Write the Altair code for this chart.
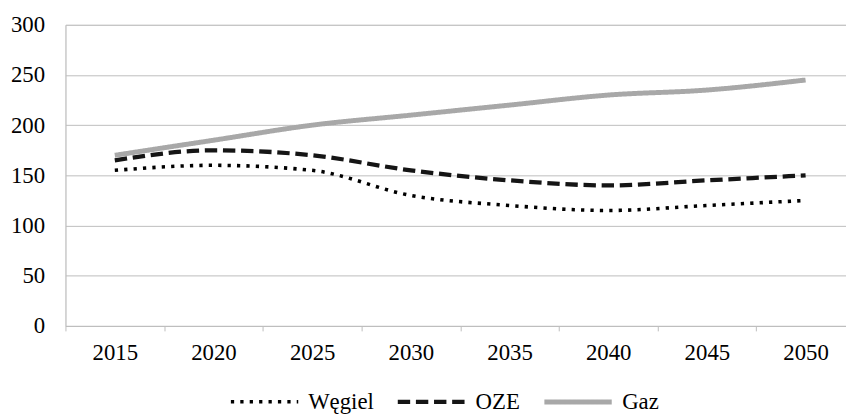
import altair as alt
import pandas as pd

years = ["2015", "2020", "2025", "2030", "2035", "2040", "2045", "2050"]
series = ["Węgiel", "OZE", "Gaz"]
wegiel = [155, 160, 155, 130, 120, 115, 120, 125]
oze = [165, 175, 170, 155, 145, 140, 145, 150]
gaz = [170, 185, 200, 210, 220, 230, 235, 245]
y_ticks = [0, 50, 100, 150, 200, 250, 300]

colors = ["#000000", "#151515", "#a8a8a8"]
dashes = [[3.3, 6.2], [12.5, 5.8], [1, 0]]
widths = [3.6, 5, 4.5]

rows = []
for s, vals in zip(series, [wegiel, oze, gaz]):
    for yr, v in zip(years, vals):
        rows.append({"rok": yr, "seria": s, "wartosc": v})
df = pd.DataFrame(rows)

FONT = "Liberation Serif, Times New Roman, serif"
GRID = "#bdbdbd"
FS = 23

leg = alt.Legend(
    orient="none", legendX=165, legendY=344, direction="horizontal", title=None,
    symbolType="stroke", symbolSize=4624, labelFont=FONT, labelFontSize=FS,
    labelColor="#000000", labelOffset=8, columnPadding=14, labelLimit=0,
)

chart = alt.Chart(df).mark_line(interpolate="monotone", strokeCap="butt").encode(
    x=alt.X(
        "rok:O", sort=years, bandPosition=0.5,
        scale=alt.Scale(type="band", paddingInner=0, paddingOuter=0, range=[0, 797]),
        axis=alt.Axis(title=None, labelAngle=0, tickBand="extent", tickSize=5,
                      tickColor=GRID, domainColor=GRID, labelPadding=11,
                      labelFont=FONT, labelFontSize=FS, labelColor="#000000", grid=False),
    ),
    y=alt.Y(
        "wartosc:Q",
        scale=alt.Scale(domain=[0, 300], nice=False),
        axis=alt.Axis(title=None, values=y_ticks, ticks=False, tickSize=0, labelPadding=21,
                      domainColor=GRID, gridColor=GRID, labelFont=FONT, labelFontSize=FS,
                      labelColor="#000000"),
    ),
    color=alt.Color("seria:N", sort=series, scale=alt.Scale(domain=series, range=colors), legend=leg),
    strokeDash=alt.StrokeDash("seria:N", sort=series, scale=alt.Scale(domain=series, range=dashes), legend=leg),
    strokeWidth=alt.StrokeWidth("seria:N", sort=series, scale=alt.Scale(domain=series, range=widths), legend=leg),
).properties(
    width=788, height=304, autosize="none",
    padding={"left": 58, "top": 15, "right": 0, "bottom": 90},
).configure_view(stroke=None).configure(background="white", font=FONT)

chart.save("out.html", embed_options={"renderer": "svg", "actions": False})
